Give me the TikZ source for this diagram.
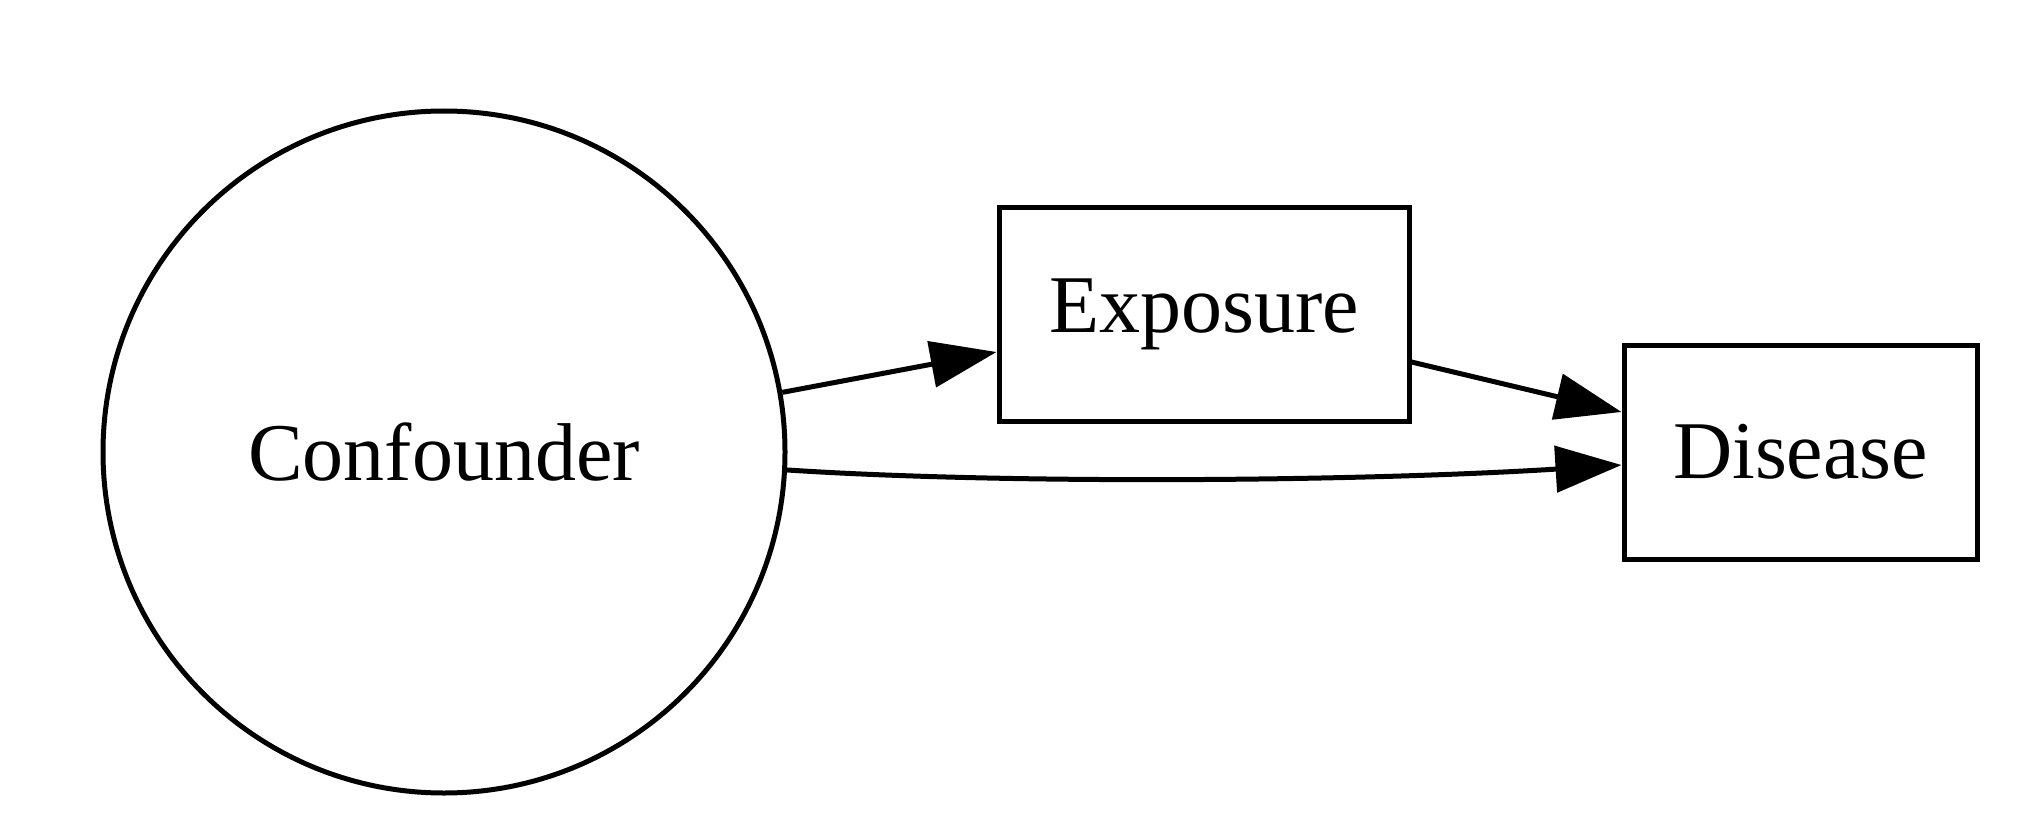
\documentclass[tikz,border=0pt]{standalone}
\usepackage{fontspec}
\setmainfont{Liberation Serif}
\usetikzlibrary{arrows.meta,calc}
\begin{document}
\begin{tikzpicture}[x=1pt,y=-1pt,
  every node/.style={font=\fontsize{82}{98}\selectfont},
  circ/.style={draw, circle, line width=5pt, minimum size=682pt, inner sep=0pt},
  box/.style={draw, rectangle, line width=5pt, inner sep=0pt, minimum height=214pt},
  conn/.style={line width=5pt, -{Triangle[length=66pt,width=46pt]}}]
\useasboundingbox (0,0) rectangle (2042,840);
\node[circ] (conf) at (444,452) {Confounder};
\node[box, minimum width=410pt] (exp) at (1204,314) {Exposure};
\node[box, minimum width=353pt] (dis) at (1800.5,452) {Disease};
\draw[conn] (conf.10.4) -- ([yshift=-38pt]exp.west);
\draw[conn] ([yshift=-48pt]exp.east) -- ([yshift=40pt]dis.west);
\draw[conn] (conf.-3) .. controls (1000,484) and (1350,482) .. ([yshift=-13pt]dis.west);
\end{tikzpicture}
\end{document}
